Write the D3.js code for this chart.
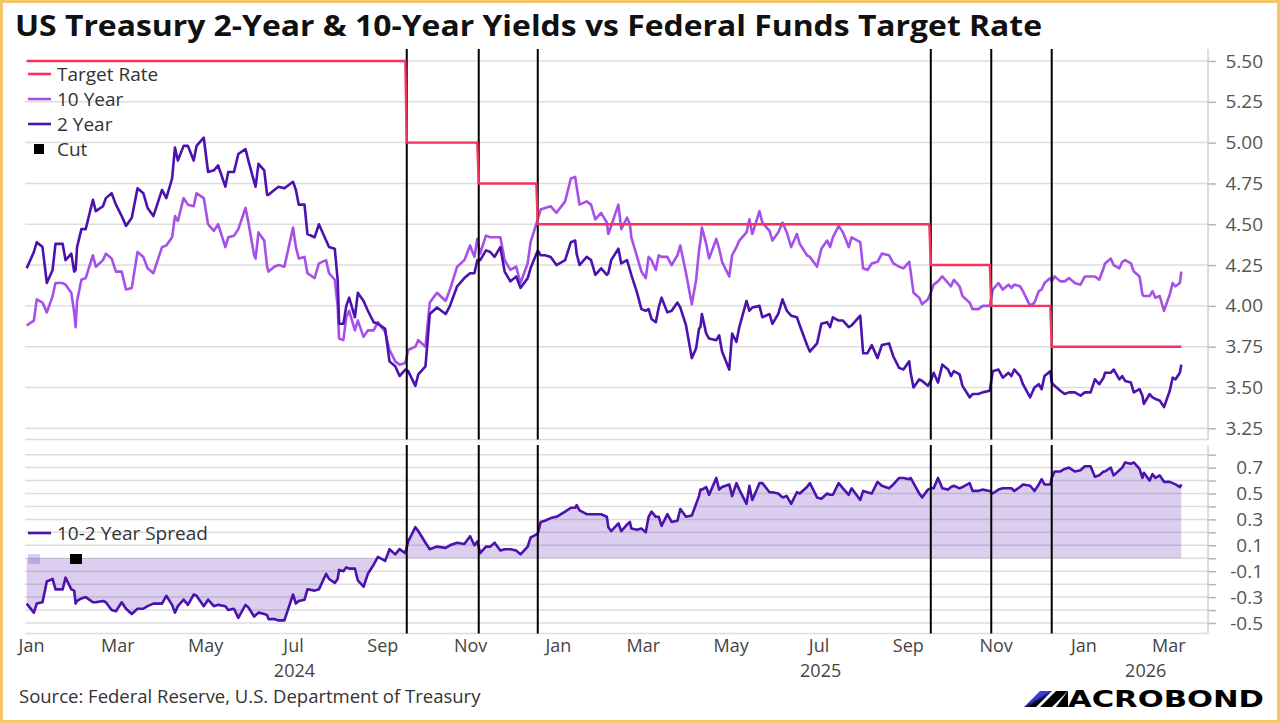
<!DOCTYPE html>
<html lang="en">
<head>
<meta charset="UTF-8">
<title>US Treasury 2-Year & 10-Year Yields vs Federal Funds Target Rate</title>
<script src="https://cdn.jsdelivr.net/npm/d3@7/dist/d3.min.js"></script>
<style>
  body { margin: 0; background: #fff; }
  svg text { font-family: "Open Sans", "Noto Sans", sans-serif; }
</style>
</head>
<body>
<svg id="chart" width="1280" height="723"></svg>
<script>
// ---- data ----
var dates = [
  "2023-12-29","2024-01-03","2024-01-05","2024-01-09","2024-01-12","2024-01-16","2024-01-18","2024-01-23","2024-01-25","2024-01-29",
  "2024-01-31","2024-02-01","2024-02-02","2024-02-05","2024-02-08","2024-02-13","2024-02-15","2024-02-20","2024-02-22","2024-02-26",
  "2024-02-29","2024-03-04","2024-03-07","2024-03-11","2024-03-15","2024-03-19","2024-03-22","2024-03-26","2024-04-01","2024-04-04",
  "2024-04-08","2024-04-10","2024-04-12","2024-04-16","2024-04-19","2024-04-23","2024-04-25","2024-04-30","2024-05-03","2024-05-07",
  "2024-05-10","2024-05-15","2024-05-17","2024-05-21","2024-05-24","2024-05-29","2024-05-31","2024-06-04","2024-06-05","2024-06-07",
  "2024-06-11","2024-06-13","2024-06-14","2024-06-18","2024-06-21","2024-06-25","2024-07-01","2024-07-03","2024-07-05","2024-07-09",
  "2024-07-11","2024-07-16","2024-07-19","2024-07-24","2024-07-26","2024-07-30","2024-08-01","2024-08-02","2024-08-05","2024-08-07",
  "2024-08-09","2024-08-13","2024-08-15","2024-08-19","2024-08-22","2024-08-26","2024-08-29","2024-09-03","2024-09-06","2024-09-10",
  "2024-09-13","2024-09-17","2024-09-19","2024-09-24","2024-09-26","2024-10-01","2024-10-04","2024-10-09","2024-10-15","2024-10-18",
  "2024-10-23","2024-10-28","2024-11-01","2024-11-04","2024-11-06","2024-11-08","2024-11-12","2024-11-15","2024-11-18","2024-11-22",
  "2024-11-25","2024-11-29","2024-12-03","2024-12-06","2024-12-11","2024-12-13","2024-12-18","2024-12-20","2024-12-23","2024-12-27",
  "2024-12-31","2025-01-06","2025-01-10","2025-01-13","2025-01-14","2025-01-16","2025-01-21","2025-01-24","2025-01-27","2025-01-31",
  "2025-02-04","2025-02-05","2025-02-07","2025-02-12","2025-02-14","2025-02-18","2025-02-20","2025-02-21","2025-02-25","2025-02-28",
  "2025-03-03","2025-03-05","2025-03-07","2025-03-10","2025-03-12","2025-03-14","2025-03-18","2025-03-21","2025-03-25","2025-03-27",
  "2025-03-31","2025-04-04","2025-04-07","2025-04-09","2025-04-10","2025-04-11","2025-04-14","2025-04-16","2025-04-21","2025-04-23",
  "2025-04-25","2025-04-30","2025-05-02","2025-05-05","2025-05-07","2025-05-12","2025-05-14","2025-05-16","2025-05-21","2025-05-23",
  "2025-05-28","2025-05-30","2025-06-03","2025-06-06","2025-06-09","2025-06-12","2025-06-16","2025-06-18","2025-06-23","2025-06-25",
  "2025-06-30","2025-07-03","2025-07-07","2025-07-09","2025-07-11","2025-07-15","2025-07-18","2025-07-22","2025-07-24","2025-07-30",
  "2025-08-01","2025-08-04","2025-08-07","2025-08-11","2025-08-14","2025-08-19","2025-08-22","2025-08-26","2025-08-29","2025-09-02",
  "2025-09-03","2025-09-05","2025-09-09","2025-09-11","2025-09-15","2025-09-17","2025-09-19","2025-09-22","2025-09-25","2025-09-29",
  "2025-10-01","2025-10-03","2025-10-07","2025-10-09","2025-10-14","2025-10-16","2025-10-20","2025-10-23","2025-10-28","2025-10-30",
  "2025-11-03","2025-11-06","2025-11-10","2025-11-12","2025-11-14","2025-11-18","2025-11-20","2025-11-25","2025-11-28","2025-12-01",
  "2025-12-03","2025-12-05","2025-12-09","2025-12-10","2025-12-12","2025-12-16","2025-12-19","2025-12-22","2025-12-26","2025-12-30",
  "2026-01-02","2026-01-06","2026-01-09","2026-01-12","2026-01-15","2026-01-16","2026-01-20","2026-01-22","2026-01-26","2026-01-28",
  "2026-01-30","2026-02-03","2026-02-05","2026-02-09","2026-02-11","2026-02-12","2026-02-16","2026-02-18","2026-02-20","2026-02-23",
  "2026-02-26","2026-03-02","2026-03-04","2026-03-06","2026-03-09","2026-03-10"
];
var twoYear = [
  4.23,4.33,4.39,4.36,4.14,4.22,4.38,4.38,4.28,4.32,
  4.21,4.22,4.36,4.47,4.47,4.65,4.58,4.61,4.66,4.69,
  4.62,4.55,4.49,4.54,4.72,4.69,4.60,4.55,4.71,4.66,
  4.78,4.97,4.89,4.98,4.98,4.89,4.98,5.03,4.82,4.83,
  4.86,4.73,4.82,4.82,4.93,4.96,4.89,4.76,4.73,4.87,
  4.83,4.68,4.68,4.71,4.73,4.72,4.76,4.71,4.62,4.62,
  4.44,4.42,4.50,4.40,4.36,4.35,4.16,3.89,3.89,4.00,
  4.05,3.93,4.08,4.03,3.97,3.90,3.89,3.86,3.66,3.63,
  3.57,3.61,3.60,3.51,3.58,3.63,3.95,3.99,3.95,4.00,
  4.12,4.17,4.20,4.20,4.28,4.28,4.34,4.33,4.30,4.36,
  4.21,4.15,4.18,4.11,4.17,4.23,4.34,4.31,4.31,4.30,
  4.25,4.28,4.39,4.40,4.32,4.25,4.30,4.28,4.19,4.23,
  4.19,4.20,4.28,4.35,4.26,4.28,4.22,4.19,4.08,3.98,
  3.97,3.98,3.92,3.90,3.99,4.05,3.96,3.97,4.02,3.99,
  3.88,3.68,3.74,3.86,3.87,3.95,3.83,3.80,3.79,3.82,
  3.72,3.61,3.83,3.78,3.87,4.03,3.97,3.99,4.00,3.93,
  3.95,3.89,3.95,4.04,3.97,3.94,3.93,3.88,3.76,3.72,
  3.77,3.89,3.90,3.87,3.93,3.91,3.91,3.87,3.88,3.94,
  3.71,3.71,3.76,3.68,3.76,3.77,3.69,3.62,3.61,3.66,
  3.59,3.50,3.55,3.54,3.51,3.54,3.59,3.53,3.64,3.61,
  3.57,3.60,3.58,3.51,3.44,3.46,3.46,3.47,3.48,3.60,
  3.61,3.56,3.59,3.57,3.61,3.57,3.52,3.44,3.50,3.52,
  3.49,3.57,3.60,3.53,3.51,3.48,3.46,3.47,3.47,3.45,
  3.47,3.47,3.55,3.52,3.56,3.59,3.59,3.61,3.55,3.57,
  3.54,3.53,3.47,3.49,3.45,3.40,3.46,3.44,3.43,3.42,
  3.38,3.48,3.56,3.55,3.59,3.64
];
var tenYear = [
  3.88,3.91,4.04,4.02,3.96,4.06,4.14,4.14,4.13,4.08,
  3.96,3.87,4.03,4.16,4.17,4.31,4.24,4.28,4.32,4.29,
  4.21,4.21,4.10,4.11,4.33,4.30,4.23,4.20,4.36,4.37,
  4.42,4.55,4.52,4.66,4.62,4.61,4.69,4.66,4.50,4.46,
  4.50,4.36,4.42,4.43,4.47,4.60,4.51,4.31,4.29,4.45,
  4.40,4.24,4.21,4.24,4.25,4.24,4.48,4.36,4.29,4.30,
  4.20,4.17,4.26,4.28,4.20,4.16,4.00,3.80,3.79,3.93,
  3.97,3.85,3.91,3.81,3.85,3.85,3.90,3.84,3.73,3.66,
  3.64,3.65,3.73,3.75,3.79,3.75,4.02,4.08,4.03,4.10,
  4.24,4.28,4.37,4.30,4.41,4.32,4.43,4.42,4.42,4.42,
  4.28,4.22,4.24,4.14,4.26,4.39,4.53,4.59,4.60,4.61,
  4.57,4.64,4.78,4.79,4.73,4.62,4.64,4.62,4.53,4.57,
  4.51,4.44,4.49,4.62,4.47,4.54,4.50,4.42,4.30,4.21,
  4.17,4.30,4.28,4.22,4.31,4.30,4.30,4.25,4.31,4.37,
  4.20,4.01,4.16,4.34,4.40,4.48,4.38,4.29,4.41,4.35,
  4.27,4.18,4.31,4.36,4.40,4.45,4.53,4.44,4.58,4.51,
  4.46,4.40,4.45,4.51,4.45,4.36,4.44,4.38,4.31,4.30,
  4.24,4.35,4.40,4.36,4.42,4.49,4.45,4.36,4.42,4.39,
  4.23,4.22,4.26,4.27,4.32,4.31,4.26,4.24,4.23,4.27,
  4.21,4.08,4.05,4.01,4.04,4.08,4.13,4.15,4.18,4.14,
  4.12,4.16,4.12,4.06,4.02,3.98,3.98,4.00,4.00,4.10,
  4.14,4.10,4.13,4.11,4.13,4.12,4.09,4.00,4.02,4.09,
  4.10,4.14,4.17,4.15,4.18,4.15,4.15,4.17,4.14,4.13,
  4.18,4.18,4.18,4.16,4.23,4.26,4.29,4.25,4.23,4.27,
  4.28,4.26,4.21,4.18,4.07,4.06,4.06,4.09,4.05,4.06,
  3.97,4.07,4.14,4.12,4.14,4.21
];
// target rate (upper bound), last day at the old level then first day at the new one
var targetDates = ["2023-12-29","2024-09-17","2024-09-18","2024-11-06","2024-11-07","2024-12-17","2024-12-18",
  "2025-09-16","2025-09-17","2025-10-28","2025-10-29","2025-12-09","2025-12-10","2026-03-10"];
var targetRate = [5.50, 5.50, 5.00, 5.00, 4.75, 4.75, 4.50, 4.50, 4.25, 4.25, 4.00, 4.00, 3.75, 3.75];
var cutDates = ["2024-09-18","2024-11-07","2024-12-18","2025-09-17","2025-10-29","2025-12-10"];

var yieldTicks = [3.25, 3.50, 3.75, 4.00, 4.25, 4.50, 4.75, 5.00, 5.25, 5.50];
var spreadGrid = [-0.5, -0.4, -0.3, -0.2, -0.1, 0, 0.1, 0.2, 0.3, 0.4, 0.5, 0.6, 0.7, 0.8];
var spreadLabels = [-0.5, -0.3, -0.1, 0.1, 0.3, 0.5, 0.7];
var yearLabels = ["2024", "2025", "2026"];

// ---- setup ----
var parse = d3.timeParse("%Y-%m-%d");
var red = "#f7325f", light = "#a650e8", dark = "#4c12ae";
var gridColor = "#dddddd";
var labelSize = 19, dateSize = 18;

var plotL = 25, plotR = 1208;
var topT = 49, topB = 439.5;
var botT = 445, botB = 633.5;

var svg = d3.select("#chart");

var x = d3.scaleTime()
  .domain([parse("2024-01-01"), parse("2026-01-01")])
  .range([31, 1083.4]);
x.domain([x.invert(plotL), x.invert(plotR)]).range([plotL, plotR]);

var yTop = d3.scaleLinear().domain([3.25, 5.5]).range([428.3, 61]);
var yBot = d3.scaleLinear().domain([-0.5, 0.7]).range([623, 467.6]);

var series = dates.map(function (d, i) {
  return { date: parse(d), two: twoYear[i], ten: tenYear[i], spread: tenYear[i] - twoYear[i] };
});
var target = targetDates.map(function (d, i) { return { date: parse(d), v: targetRate[i] }; });

// border + title
svg.append("rect").attr("x", 1.5).attr("y", 1.5).attr("width", 1277).attr("height", 720)
  .attr("fill", "#fff").attr("stroke", "#f6c76a").attr("stroke-width", 3);

svg.append("text").attr("x", 15).attr("y", 36)
  .attr("font-size", 29).attr("font-weight", 700).attr("fill", "#111")
  .attr("textLength", 1027).attr("lengthAdjust", "spacingAndGlyphs")
  .text("US Treasury 2-Year & 10-Year Yields vs Federal Funds Target Rate");

// ---- top panel ----
var gTop = svg.append("g");
gTop.selectAll(".grid").data(yieldTicks).enter().append("line")
  .attr("x1", plotL).attr("x2", plotR)
  .attr("y1", function (d) { return yTop(d); }).attr("y2", function (d) { return yTop(d); })
  .attr("stroke", gridColor).attr("stroke-width", 1.5);
gTop.append("line").attr("x1", plotL).attr("x2", plotR).attr("y1", topB).attr("y2", topB)
  .attr("stroke", gridColor).attr("stroke-width", 1.5);

var yAxisTop = d3.axisRight(yTop).tickValues(yieldTicks).tickSize(8).tickSizeOuter(0)
  .tickFormat(function (d) { return d.toFixed(2); });
var gyt = gTop.append("g").attr("transform", "translate(" + plotR + ",0)").call(yAxisTop);

gTop.append("path").datum(series)
  .attr("fill", "none").attr("stroke", light).attr("stroke-width", 2.6).attr("stroke-linejoin", "round")
  .attr("d", d3.line().x(function (d) { return x(d.date); }).y(function (d) { return yTop(d.ten); }));

gTop.append("path").datum(series)
  .attr("fill", "none").attr("stroke", dark).attr("stroke-width", 2.6).attr("stroke-linejoin", "round")
  .attr("d", d3.line().x(function (d) { return x(d.date); }).y(function (d) { return yTop(d.two); }));

// ---- bottom panel ----
var gBot = svg.append("g");
gBot.selectAll(".grid").data(spreadGrid).enter().append("line")
  .attr("x1", plotL).attr("x2", plotR)
  .attr("y1", function (d) { return yBot(d); }).attr("y2", function (d) { return yBot(d); })
  .attr("stroke", gridColor).attr("stroke-width", 1.5);
gBot.append("line").attr("x1", plotL).attr("x2", plotR).attr("y1", botB).attr("y2", botB)
  .attr("stroke", gridColor).attr("stroke-width", 1.5);

var yAxisBot = d3.axisRight(yBot).tickValues(spreadGrid).tickSize(8).tickSizeOuter(0)
  .tickFormat(function (d) { return spreadLabels.indexOf(d) >= 0 ? d.toFixed(1) : ""; });
var gyb = gBot.append("g").attr("transform", "translate(" + plotR + ",0)").call(yAxisBot);

gBot.append("path").datum(series)
  .attr("fill", "#5a1fb8").attr("fill-opacity", 0.22)
  .attr("d", d3.area().x(function (d) { return x(d.date); })
    .y0(yBot(0)).y1(function (d) { return yBot(d.spread); }));

gBot.append("path").datum(series)
  .attr("fill", "none").attr("stroke", dark).attr("stroke-width", 2.6).attr("stroke-linejoin", "round")
  .attr("d", d3.line().x(function (d) { return x(d.date); }).y(function (d) { return yBot(d.spread); }));

// style both right axes
[gyt, gyb].forEach(function (g) {
  g.select(".domain").remove();
  g.selectAll(".tick line").attr("stroke", "#b5b5b5").attr("stroke-width", 1.5);
  g.selectAll(".tick text").attr("x", 55).attr("text-anchor", "end")
    .attr("font-size", labelSize).attr("fill", "#555").style("font-family", "'Open Sans', sans-serif");
});
svg.append("line").attr("x1", plotR).attr("x2", plotR).attr("y1", topT).attr("y2", topB)
  .attr("stroke", "#d0d0d0").attr("stroke-width", 1.5);
svg.append("line").attr("x1", plotR).attr("x2", plotR).attr("y1", botT).attr("y2", botB)
  .attr("stroke", "#d0d0d0").attr("stroke-width", 1.5);

// cut markers
cutDates.forEach(function (c) {
  var cx = x(parse(c));
  svg.append("line").attr("x1", cx).attr("x2", cx).attr("y1", topT).attr("y2", topB)
    .attr("stroke", "#000").attr("stroke-width", 2);
  svg.append("line").attr("x1", cx).attr("x2", cx).attr("y1", botT).attr("y2", botB)
    .attr("stroke", "#000").attr("stroke-width", 2);
});

// target rate drawn above the cut lines so its steps stay visible
svg.append("path").datum(target)
  .attr("fill", "none").attr("stroke", red).attr("stroke-width", 2.4)
  .attr("d", d3.line().x(function (d) { return x(d.date); }).y(function (d) { return yTop(d.v); }));

// ---- x axis ----
var xAxis = d3.axisBottom(x).ticks(d3.timeMonth.every(2)).tickSize(0)
  .tickFormat(d3.timeFormat("%b"));
var gx = svg.append("g").attr("transform", "translate(0," + botB + ")").call(xAxis);
gx.select(".domain").remove();
gx.selectAll(".tick text").attr("y", 0).attr("dy", 18)
  .attr("font-size", dateSize).attr("fill", "#444").style("font-family", "'Open Sans', sans-serif");

var xd = x.domain();
yearLabels.forEach(function (yr) {
  var a = d3.max([parse(yr + "-01-01"), xd[0]]);
  var b = d3.min([parse((+yr + 1) + "-01-01"), xd[1]]);
  svg.append("text").attr("x", (x(a) + x(b)) / 2).attr("y", 677)
    .attr("text-anchor", "middle").attr("font-size", dateSize).attr("fill", "#444").text(yr);
});

// ---- legends ----
var legendTop = [
  { label: "Target Rate", color: red, kind: "line" },
  { label: "10 Year", color: light, kind: "line" },
  { label: "2 Year", color: dark, kind: "line" },
  { label: "Cut", color: "#000", kind: "box" }
];
legendTop.forEach(function (it, i) {
  var ly = 74 + i * 25;
  if (it.kind === "line") {
    svg.append("line").attr("x1", 28).attr("x2", 51).attr("y1", ly).attr("y2", ly)
      .attr("stroke", it.color).attr("stroke-width", 2.6);
  } else {
    svg.append("rect").attr("x", 34).attr("y", ly - 5).attr("width", 10).attr("height", 10).attr("fill", it.color);
  }
  svg.append("text").attr("x", 57).attr("y", ly + 6.5).attr("font-size", 19).attr("fill", "#333").text(it.label);
});

svg.append("line").attr("x1", 28).attr("x2", 51).attr("y1", 533).attr("y2", 533)
  .attr("stroke", dark).attr("stroke-width", 2.6);
svg.append("text").attr("x", 57).attr("y", 539.5).attr("font-size", 19).attr("fill", "#333").text("10-2 Year Spread");
svg.append("rect").attr("x", 28).attr("y", 554).attr("width", 12).attr("height", 10)
  .attr("fill", "#5a1fb8").attr("fill-opacity", 0.22);
svg.append("rect").attr("x", 70).attr("y", 554).attr("width", 12).attr("height", 10).attr("fill", "#000");

// ---- footer ----
svg.append("text").attr("x", 19).attr("y", 703).attr("font-size", 18.5).attr("fill", "#333")
  .text("Source: Federal Reserve, U.S. Department of Treasury");

var defs = svg.append("defs");
var grad = defs.append("linearGradient").attr("id", "mbGrad")
  .attr("x1", "0").attr("y1", "0").attr("x2", "1").attr("y2", "1");
grad.append("stop").attr("offset", "0%").attr("stop-color", "#7b3cf0");
grad.append("stop").attr("offset", "45%").attr("stop-color", "#3b3bd8");
grad.append("stop").attr("offset", "60%").attr("stop-color", "#000");

var logo = svg.append("g");
logo.append("path").attr("d", "M1024,707 L1036,707 L1052,691 L1040,691 Z").attr("fill", "url(#mbGrad)");
logo.append("path").attr("d", "M1040,707 L1052,707 L1068,691 L1056,691 Z").attr("fill", "#000");
logo.append("path").attr("d", "M1056,707 L1068,707 L1068,691 Z").attr("fill", "#000");
logo.append("text").attr("x", 1068).attr("y", 707)
  .attr("font-size", 23).attr("font-weight", 900).attr("fill", "#000")
  .attr("textLength", 196).attr("lengthAdjust", "spacingAndGlyphs")
  .style("font-family", "'DejaVu Sans', sans-serif")
  .text("ACROBOND");
</script>
</body>
</html>
